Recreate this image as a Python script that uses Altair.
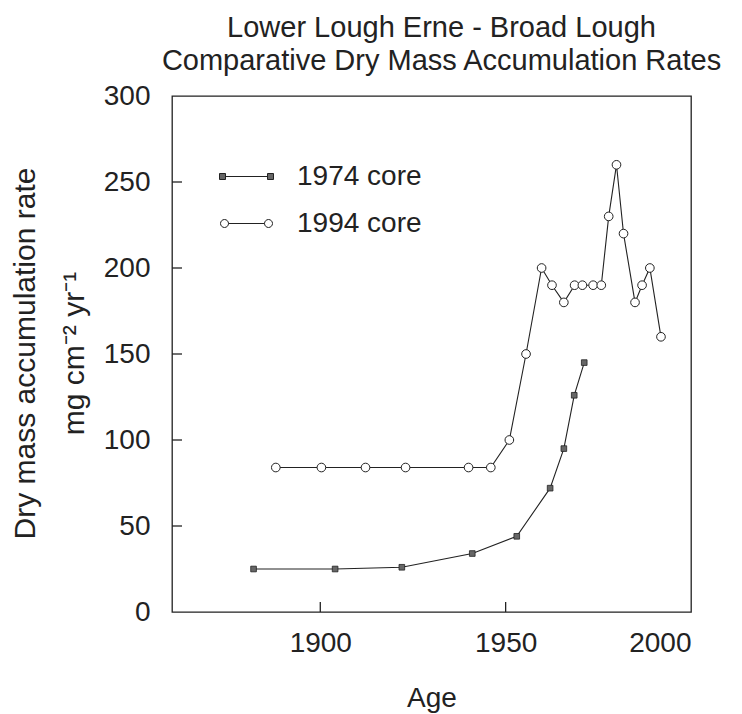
import altair as alt
import pandas as pd

# ---- data ----
series_names = ["1974 core", "1994 core"]

years_1974 = [1882, 1904, 1922, 1941, 1953, 1962, 1965.7, 1968.5, 1971.2]
rates_1974 = [25, 25, 26, 34, 44, 72, 95, 126, 145]

years_1994 = [1888, 1900.3, 1912.2, 1923, 1940, 1946, 1951, 1955.5, 1959.7,
              1962.5, 1965.7, 1968.6, 1970.7, 1973.6, 1975.8, 1977.8, 1979.9,
              1981.8, 1984.9, 1986.8, 1988.9, 1991.9]
rates_1994 = [84, 84, 84, 84, 84, 84, 100, 150, 200, 190, 180, 190, 190, 190,
              190, 230, 260, 220, 180, 190, 200, 160]

x_tick_labels = [1900, 1950, 2000]
x_inner_ticks = [1900, 1950]
y_tick_labels = [0, 50, 100, 150, 200, 250, 300]
y_inner_ticks = [50, 100, 150, 200, 250]

df = pd.concat([
    pd.DataFrame({"year": years_1974, "rate": rates_1974, "series": series_names[0]}),
    pd.DataFrame({"year": years_1994, "rate": rates_1994, "series": series_names[1]}),
], ignore_index=True)
xticks_df = pd.DataFrame({"year": x_inner_ticks})
yticks_df = pd.DataFrame({"rate": y_inner_ticks})

FONT = "Liberation Sans"
INK = "#222222"
W, H = 519, 516
TICK = 10

xs = alt.Scale(domain=[1860, 2000], nice=False, zero=False)
ys = alt.Scale(domain=[0, 300], nice=False, zero=True)

x_main = alt.X("year:Q", scale=xs, axis=alt.Axis(
    orient="bottom", values=x_tick_labels, format="d", ticks=False, domain=False,
    grid=False, labelFontSize=28, labelPadding=17, labelColor=INK, labelFont=FONT,
    title="Age", titleFontSize=28, titleFont=FONT, titleFontWeight="normal",
    titleColor=INK, titlePadding=27))
y_main = alt.Y("rate:Q", scale=ys, axis=alt.Axis(
    orient="left", values=y_tick_labels, ticks=False, domain=False, grid=False,
    labelFontSize=28, labelPadding=22, labelColor=INK, labelFont=FONT,
    title=["Dry mass accumulation rate", "mg cm\u207b\u00b2 yr\u207b\u00b9"],
    titleFontSize=30, titleFont=FONT, titleFontWeight="normal", titleColor=INK,
    titleLineHeight=49, titleAngle=270, titleAlign="center",
    titleBaseline="alphabetic", titleX=-138, titleY=257))

base = alt.Chart(df)

lines = base.mark_line(color=INK, strokeWidth=1.1).encode(
    x=x_main, y=y_main, detail="series:N")

pts74 = base.transform_filter(alt.datum.series == series_names[0]).mark_point(
    shape="square", filled=True, fill="#666666", stroke=INK, strokeWidth=0.8,
    size=32, opacity=1).encode(x="year:Q", y="rate:Q")

pts94 = base.transform_filter(alt.datum.series == series_names[1]).mark_point(
    shape="circle", filled=True, fill="white", stroke=INK, strokeWidth=1,
    size=75, opacity=1).encode(x="year:Q", y="rate:Q")

# inward tick marks drawn from the tick-value lists
xtick_marks = alt.Chart(xticks_df).mark_rule(color=INK, strokeWidth=1.3).encode(
    x="year:Q", y=alt.value(H - TICK), y2=alt.value(H))
ytick_marks = alt.Chart(yticks_df).mark_rule(color=INK, strokeWidth=1.3).encode(
    y="rate:Q", x=alt.value(0), x2=alt.value(TICK))

path_sq = ("M-1.35,-0.15H-1.05V0.15H-1.35Z M-1.05,0H1.05 "
           "M1.05,-0.15H1.35V0.15H1.05Z")
path_ci = ("M-0.9,0A0.2,0.2 0 1,0 -1.3,0A0.2,0.2 0 1,0 -0.9,0Z M-0.9,0H0.9 "
           "M1.3,0A0.2,0.2 0 1,0 0.9,0A0.2,0.2 0 1,0 1.3,0Z")

leg = alt.Legend(title=None, orient="none", legendX=54, legendY=60, padding=0,
                 labelFontSize=28, labelFont=FONT, labelColor=INK, labelOffset=30,
                 symbolSize=1600, symbolStrokeWidth=1, symbolStrokeColor=INK,
                 rowPadding=12)

legend_layer = base.transform_filter("false").mark_point(
    filled=True, strokeWidth=1, size=1600, opacity=1).encode(
    x="year:Q", y="rate:Q",
    shape=alt.Shape("series:N", scale=alt.Scale(domain=series_names,
                                                range=[path_sq, path_ci]), legend=leg),
    fill=alt.Fill("series:N", scale=alt.Scale(domain=series_names,
                                              range=["#666666", "white"]), legend=leg),
    stroke=alt.Stroke("series:N", scale=alt.Scale(domain=series_names,
                                                  range=[INK, INK]), legend=leg),
)

chart = alt.layer(lines, pts74, pts94, xtick_marks, ytick_marks, legend_layer).properties(
    width=W, height=H,
    autosize="none",
    padding={"left": 172, "top": 96, "right": 742 - 172 - W, "bottom": 714 - 96 - H},
    title=alt.TitleParams(
        text=["Lower Lough Erne - Broad Lough", "Comparative Dry Mass Accumulation Rates"],
        fontSize=29, font=FONT, fontWeight="normal", color=INK, lineHeight=33,
        anchor="middle", offset=6, dx=10),
    background="white",
).configure_view(stroke=INK, strokeWidth=1.3)

chart.save("out.html", embed_options={"renderer": "svg", "actions": False})
